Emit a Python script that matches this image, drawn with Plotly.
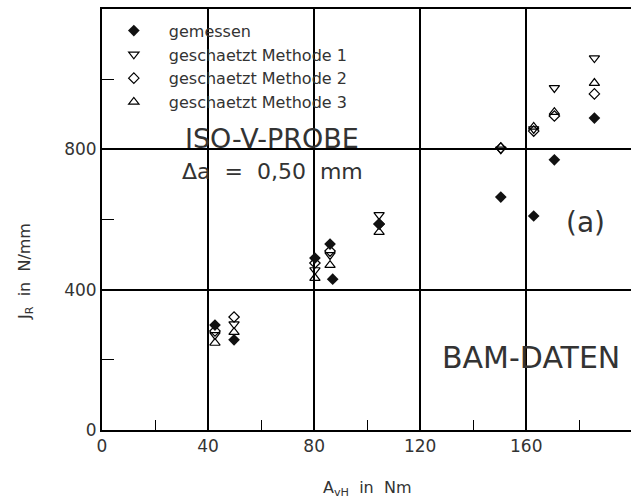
import plotly.graph_objects as go

# Data
x_meas = [42.6, 49.8, 80.3, 86.0, 87.0, 104.5, 150.4, 162.8, 170.6, 185.7]
y_meas = [299, 257, 490, 530, 430, 587, 664, 610, 770, 889]

x_est = [42.6, 49.8, 80.3, 86.0, 104.5, 150.4, 162.8, 170.6, 185.7]
y_m1 = [271, 302, 456, 499, 613, 800, 858, 975, 1060]
y_m2 = [282, 322, 476, 510, 587, 804, 852, 895, 958]
y_m3 = [248, 279, 433, 470, 564, 806, 864, 906, 989]

x_ticks = [0, 40, 80, 120, 160]
y_ticks = [0, 400, 800]

names = ["gemessen", "geschaetzt Methode 1", "geschaetzt Methode 2", "geschaetzt Methode 3"]

FONT = "DejaVu Sans"
TXT = "#333333"

# plot area in window pixels: x 102..631, y 9..430
PL, PT, PW, PH = 102, 9, 529, 421
FIG_W, FIG_H = 631, 499

fig = go.Figure()
mline = dict(color="black", width=1.2)
fig.add_trace(go.Scatter(x=x_est, y=y_m1, mode="markers", name=names[1], legendrank=2,
                         marker=dict(symbol="triangle-down-open", size=9, color="black", line=mline)))
fig.add_trace(go.Scatter(x=x_est, y=y_m2, mode="markers", name=names[2], legendrank=3,
                         marker=dict(symbol="diamond-open", size=8, color="black", line=mline)))
fig.add_trace(go.Scatter(x=x_est, y=y_m3, mode="markers", name=names[3], legendrank=4,
                         marker=dict(symbol="triangle-up-open", size=9, color="black", line=mline)))
fig.add_trace(go.Scatter(x=x_meas, y=y_meas, mode="markers", name=names[0], legendrank=1,
                         marker=dict(symbol="diamond", size=9, color="#111", line=dict(width=0))))

fig.update_layout(
    width=FIG_W, height=FIG_H, autosize=False,
    margin=dict(l=PL, r=FIG_W - PL - PW, t=PT, b=FIG_H - PT - PH, autoexpand=False),
    paper_bgcolor="white", plot_bgcolor="white",
    font=dict(family=FONT, color=TXT),
    showlegend=True,
    legend=dict(x=-0.006, y=0.989, xanchor="left", yanchor="top",
                bgcolor="rgba(0,0,0,0)", font=dict(size=16, color=TXT),
                itemwidth=60, itemsizing="trace"),
    xaxis=dict(range=[0, 199.5], tickvals=x_ticks, ticktext=[str(v) for v in x_ticks],
               automargin=False,
               showgrid=True, gridcolor="black", gridwidth=1.5,
               showline=True, linecolor="black", linewidth=1.8, mirror=True,
               zeroline=False, ticks="", tickfont=dict(size=17, color=TXT),
               minor=dict(tick0=20, dtick=40, ticks="inside", ticklen=10,
                          tickcolor="black", tickwidth=1.3, showgrid=False)),
    yaxis=dict(range=[0, 1200], tickvals=y_ticks, ticktext=[str(v) for v in y_ticks],
               automargin=False,
               showgrid=True, gridcolor="black", gridwidth=1.5,
               showline=True, linecolor="black", linewidth=1.8, mirror=False,
               zeroline=False, ticks="", tickfont=dict(size=17, color=TXT),
               minor=dict(tick0=200, dtick=400, ticks="inside", ticklen=12,
                          tickcolor="black", tickwidth=1.3, showgrid=False)),
)

def ann(text, px, py, size, **kw):
    fig.add_annotation(text=text, xref="paper", yref="paper",
                       x=(px - PL) / PW, y=(PT + PH - py) / PH,
                       showarrow=False, font=dict(size=size, color=TXT, family=FONT),
                       xanchor="center", yanchor="middle", **kw)

ann("ISO-V-PROBE", 272, 138, 27)
ann("\u0394a  =  0,50  mm", 272, 172, 22)
ann("(a)", 585, 222, 28)
ann("BAM-DATEN", 531, 357, 30)
ann("A<sub>vH</sub>  in  Nm", 367, 488, 16)
ann("J<sub>R</sub>  in  N/mm", 25, 272, 16, textangle=-90)

fig.write_html(
    "out.html",
    config={"responsive": False, "displayModeBar": False},
    post_script="document.body.style.margin='0';document.body.style.overflow='hidden';",
)
